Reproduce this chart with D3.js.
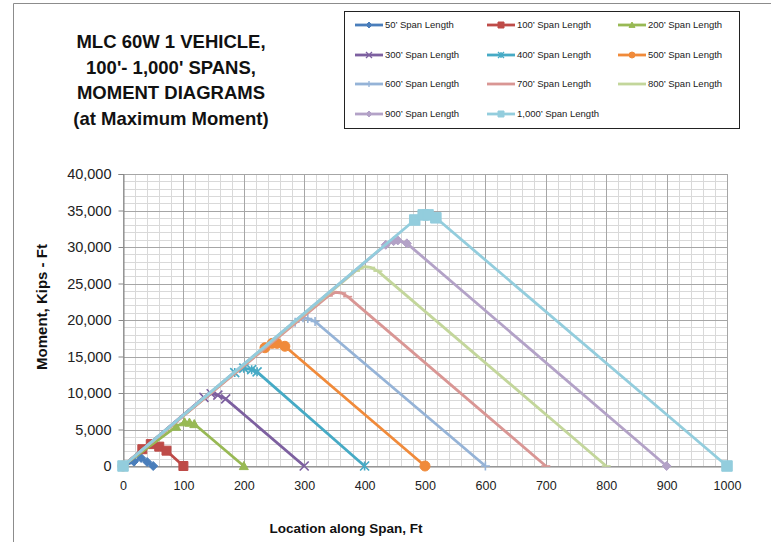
<!DOCTYPE html>
<html>
<head>
<meta charset="utf-8">
<script src="https://cdn.jsdelivr.net/npm/d3@7"></script>
<style>
  html, body { margin: 0; padding: 0; background: #fff; }
  svg { display: block; font-family: "Liberation Sans", Arial, sans-serif; }
</style>
</head>
<body>
<svg id="chart" width="771" height="542"></svg>
<script>
// ---- Data ----
const seriesNames = ["50’ Span Length", "100’ Span Length", "200’ Span Length", "300’ Span Length",
  "400’ Span Length", "500’ Span Length", "600’ Span Length", "700’ Span Length",
  "800’ Span Length", "900’ Span Length", "1,000’ Span Length"];
const loc50 = [0, 18, 30, 40, 50];
const mom50 = [0, 600, 1100, 550, 0];
const loc100 = [0, 32, 46, 60, 72, 100];
const mom100 = [0, 2300, 3000, 2650, 2100, 0];
const loc200 = [0, 88, 102, 110, 118, 200];
const mom200 = [0, 5400, 6000, 5950, 5750, 0];
const loc300 = [0, 134, 146, 157, 170, 300];
const mom300 = [0, 9400, 9900, 9700, 9200, 0];
const loc400 = [0, 185, 200, 213, 222, 400];
const mom400 = [0, 12800, 13400, 13200, 12900, 0];
const loc500 = [0, 235, 247, 255, 268, 500];
const mom500 = [0, 16200, 16800, 16800, 16400, 0];
const loc600 = [0, 285, 298, 306, 318, 600];
const mom600 = [0, 19700, 20300, 20200, 19800, 0];
const loc700 = [0, 340, 352, 362, 372, 700];
const mom700 = [0, 23300, 23800, 23700, 23200, 0];
const loc800 = [0, 385, 400, 410, 422, 800];
const mom800 = [0, 26700, 27300, 27200, 26700, 0];
const loc900 = [0, 435, 448, 455, 470, 900];
const mom900 = [0, 30300, 30800, 30900, 30500, 0];
const loc1000 = [0, 483, 497, 505, 518, 1000];
const mom1000 = [0, 33700, 34400, 34400, 34000, 0];
const xTicks = [0, 100, 200, 300, 400, 500, 600, 700, 800, 900, 1000];
const yTicks = [0, 5000, 10000, 15000, 20000, 25000, 30000, 35000, 40000];
const titleLines = ["MLC 60W 1 VEHICLE,", "100'- 1,000' SPANS,", "MOMENT DIAGRAMS", "(at Maximum Moment)"];

const locs = [loc50, loc100, loc200, loc300, loc400, loc500, loc600, loc700, loc800, loc900, loc1000];
const moms = [mom50, mom100, mom200, mom300, mom400, mom500, mom600, mom700, mom800, mom900, mom1000];
const colors = ["#4A7EBB", "#BE4B48", "#98B954", "#7D60A0", "#46AAC5", "#F08A3A",
  "#95B3D7", "#D99694", "#C3D69B", "#B3A2C7", "#93CDDD"];
const markers = ["diamond", "square", "triangle", "x", "star", "circle", "plus", "dash", "dash", "diamond", "square"];

const series = seriesNames.map((name, i) => ({
  name, color: colors[i], marker: markers[i],
  pts: locs[i].map((x, j) => ({ x, y: moms[i][j] }))
}));

// ---- Layout ----
const svg = d3.select("#chart");
const x = d3.scaleLinear().domain([0, 1000]).range([123, 727]);
const y = d3.scaleLinear().domain([0, 40000]).range([466, 174]);

// chart border
svg.append("path").attr("d", "M13.5,542 V3.5 H771").attr("fill", "none")
  .attr("stroke", "#8c8c8c").attr("stroke-width", 1);

// grid
const g = svg.append("g");
const minorX = d3.range(0, 1001, 20).filter(v => v % 100 !== 0);
const minorY = d3.range(0, 40001, 1000).filter(v => v % 5000 !== 0);
g.selectAll(".mx").data(minorX).join("line")
  .attr("x1", d => Math.round(x(d)) + 0.5).attr("x2", d => Math.round(x(d)) + 0.5)
  .attr("y1", y(40000)).attr("y2", y(0)).attr("stroke", "#d9d9d9");
g.selectAll(".my").data(minorY).join("line")
  .attr("y1", d => Math.round(y(d)) + 0.5).attr("y2", d => Math.round(y(d)) + 0.5)
  .attr("x1", x(0)).attr("x2", x(1000)).attr("stroke", "#d9d9d9");
g.selectAll(".Mx").data(xTicks).join("line")
  .attr("x1", d => Math.round(x(d)) + 0.5).attr("x2", d => Math.round(x(d)) + 0.5)
  .attr("y1", y(40000)).attr("y2", y(0)).attr("stroke", "#a6a6a6");
g.selectAll(".My").data(yTicks).join("line")
  .attr("y1", d => Math.round(y(d)) + 0.5).attr("y2", d => Math.round(y(d)) + 0.5)
  .attr("x1", x(0)).attr("x2", x(1000)).attr("stroke", "#a6a6a6");

// axes
const yAxis = d3.axisLeft(y).tickValues(yTicks).tickSize(5).tickPadding(7)
  .tickFormat(d3.format(","));
const ya = svg.append("g").attr("transform", `translate(${Math.round(x(0)) + 0.5},0)`).call(yAxis);
ya.select(".domain").attr("stroke", "#868686");
ya.selectAll(".tick line").attr("stroke", "#868686");
ya.selectAll(".tick text").attr("font-size", "14.5px").attr("fill", "#222")
  .attr("font-family", "Liberation Sans, Arial, sans-serif");

const xAxis = d3.axisBottom(x).tickValues(xTicks).tickSize(0).tickPadding(15)
  .tickFormat(d3.format("d"));
const xa = svg.append("g").attr("transform", `translate(0,${Math.round(y(0)) + 0.5})`).call(xAxis);
xa.select(".domain").attr("stroke", "#868686");
xa.selectAll(".tick text").attr("font-size", "12.5px").attr("fill", "#222")
  .attr("font-family", "Liberation Sans, Arial, sans-serif");

// marker paths
function markerPath(type, s) {
  const h = s / 2;
  switch (type) {
    case "diamond": return `M0,${-h}L${h},0L0,${h}L${-h},0Z`;
    case "square": return `M${-h},${-h}H${h}V${h}H${-h}Z`;
    case "triangle": return `M0,${-h}L${h},${h * 0.8}L${-h},${h * 0.8}Z`;
    case "circle": return d3.symbol(d3.symbolCircle, Math.PI * h * h)();
    case "x": return `M${-h},${-h}L${h},${h}M${-h},${h}L${h},${-h}`;
    case "star": return `M${-h},${-h}L${h},${h}M${-h},${h}L${h},${-h}M0,${-h}V${h}`;
    case "plus": return `M${-h},0H${h}M0,${-h}V${h}`;
    case "dash": return `M${-h},0H${h}`;
  }
}
const filled = t => ["diamond", "square", "triangle", "circle"].includes(t);
const mSize = { diamond: 9, square: 9, triangle: 9, circle: 10, x: 9, star: 9, plus: 9, dash: 9 };

// series
const line = d3.line().x(d => x(d.x)).y(d => y(d.y));
series.forEach(s => {
  const sg = svg.append("g");
  sg.append("path").attr("d", line(s.pts)).attr("fill", "none")
    .attr("stroke", s.color).attr("stroke-width", 2.8).attr("stroke-linejoin", "round");
  const sz = s.marker === "square" && s.name.startsWith("1,000") ? 10.5 : mSize[s.marker];
  sg.selectAll("path.m").data(s.pts).join("path").attr("class", "m")
    .attr("transform", d => `translate(${x(d.x)},${y(d.y)})`)
    .attr("d", markerPath(s.marker, sz))
    .attr("fill", filled(s.marker) ? s.color : "none")
    .attr("stroke", s.color).attr("stroke-width", filled(s.marker) ? 1 : 1.6);
});

// title
const tt = svg.append("text").attr("text-anchor", "middle").attr("font-weight", "bold")
  .attr("font-size", "18.5px").attr("fill", "#111");
titleLines.forEach((t, i) => {
  tt.append("tspan").attr("x", 171).attr("y", 48 + i * 25.5).text(t);
});

// axis titles
svg.append("text").attr("transform", "translate(47,307) rotate(-90)")
  .attr("text-anchor", "middle").attr("font-weight", "bold").attr("font-size", "15px")
  .attr("fill", "#111").text("Moment, Kips - Ft");
svg.append("text").attr("x", 346).attr("y", 533).attr("text-anchor", "middle")
  .attr("font-weight", "bold").attr("font-size", "13.5px").attr("fill", "#111")
  .text("Location along Span, Ft");

// legend
svg.append("rect").attr("x", 344.5).attr("y", 11.5).attr("width", 395).attr("height", 117)
  .attr("fill", "#fff").attr("stroke", "#222").attr("stroke-width", 1);
const colX = [355, 487, 618];
const rowY = [25, 55, 84, 114];
series.forEach((s, i) => {
  const cx = colX[i % 3], cy = rowY[Math.floor(i / 3)];
  const lg = svg.append("g").attr("transform", `translate(${cx},${cy})`);
  lg.append("line").attr("x1", 0).attr("x2", 28).attr("y1", 0).attr("y2", 0)
    .attr("stroke", s.color).attr("stroke-width", 2.8);
  lg.append("path").attr("transform", "translate(14,0)").attr("d", markerPath(s.marker, 6))
    .attr("fill", filled(s.marker) ? s.color : "none").attr("stroke", s.color)
    .attr("stroke-width", filled(s.marker) ? 1 : 1.3);
  lg.append("text").attr("x", 30).attr("y", 0).attr("dy", "0.35em")
    .attr("font-size", "9.5px").attr("fill", "#222").text(s.name);
});
</script>
</body>
</html>
